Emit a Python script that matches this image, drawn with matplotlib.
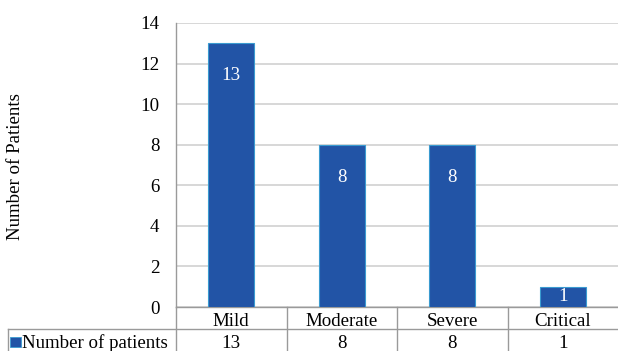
import matplotlib.pyplot as plt
import matplotlib.transforms as mtransforms
from matplotlib.patches import Rectangle
from matplotlib.lines import Line2D

categories = ['Mild', 'Moderate', 'Severe', 'Critical']
patients = [13, 8, 8, 1]
series_name = 'Number of patients'

plt.rcParams['font.family'] = ['Liberation Serif', 'DejaVu Serif']
fs = 13.6

W, H = 618, 351
fig = plt.figure(figsize=(W / 100, H / 100), dpi=100)
ax = fig.add_axes([176 / W, (H - 307) / H, (W - 176) / W, (307 - 23) / H])

bar_color = '#2254A6'
edge_color = '#3A9BD0'
grid_color = '#D4D4D4'
line_color = '#9A9A9A'

x = range(len(categories))
ax.bar(x, patients, width=0.42, color=bar_color, edgecolor=edge_color,
       linewidth=0.8, zorder=3)

for i, v in enumerate(patients):
    ypos = max(v - 1.6, v / 2)
    ax.text(i, ypos, str(v), ha='center', va='center', color='white',
            fontsize=fs, zorder=4)

ax.set_xlim(-0.5, len(categories) - 0.5)
ax.set_ylim(0, 14)
ax.set_yticks(range(0, 15, 2))
ax.set_xticks([])
ax.tick_params(axis='y', length=0, pad=12, labelsize=fs)
ax.yaxis.grid(True, color=grid_color, linewidth=1.3, zorder=0)
for s in ['top', 'right']:
    ax.spines[s].set_visible(False)
ax.spines['left'].set_color(line_color)
ax.spines['bottom'].set_color(line_color)
ax.spines['bottom'].set_linewidth(1.0)
ax.spines['left'].set_linewidth(1.0)

fig.text(16 / W, 1 - 167 / H, 'Number of Patients', rotation=90,
         ha='center', va='center', fontsize=fs)

# data table under the plot
row_h = 22 / (307 - 23)
px = 1 / (307 - 23)
trans = mtransforms.blended_transform_factory(ax.transData, ax.transAxes)
left_edge = -0.5 - (176 - 8) / ((W - 176) / len(categories))

def hline(x0, x1, y):
    ax.add_line(Line2D([x0, x1], [y, y], transform=trans, color=line_color,
                       linewidth=1.0, clip_on=False))

def vline(xv, y0, y1):
    ax.add_line(Line2D([xv, xv], [y0, y1], transform=trans, color=line_color,
                       linewidth=1.0, clip_on=False))

hline(left_edge, len(categories) - 0.5, -row_h)
vline(-0.5, -2.2 * row_h, 0)
vline(left_edge, -2.2 * row_h, -row_h)
for i in range(1, len(categories)):
    vline(i - 0.5, -2.2 * row_h, 0)

for i, (c, v) in enumerate(zip(categories, patients)):
    ax.text(i, -row_h / 2 - 3 * px, c, transform=trans, ha='center',
            va='center', fontsize=fs)
    ax.text(i, -1.5 * row_h - 3 * px, str(v), transform=trans, ha='center',
            va='center', fontsize=fs)

ax.add_patch(Rectangle((left_edge + 0.02, -1.5 * row_h - 0.018 - 2 * px),
                       0.095, 0.036, transform=trans, facecolor=bar_color,
                       edgecolor=edge_color, linewidth=0.6, clip_on=False))
ax.text(left_edge + 0.13, -1.5 * row_h - 3 * px, series_name, transform=trans,
        ha='left', va='center', fontsize=fs)

fig.savefig('out.png', dpi=100)
